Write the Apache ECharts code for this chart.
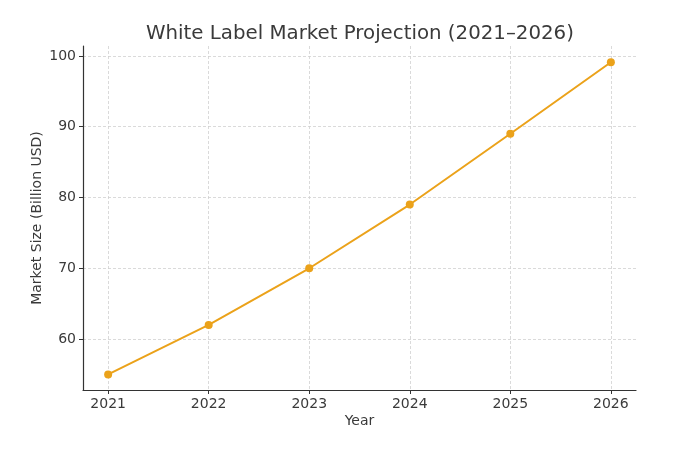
<!DOCTYPE html>
<html>
<head>
<meta charset="utf-8">
<script src="https://cdn.jsdelivr.net/npm/echarts@6/dist/echarts.min.js"></script>
<style>
  html, body { margin: 0; padding: 0; background: #fff; }
  #main { width: 692px; height: 454px; }
</style>
</head>
<body>
<div id="main"></div>
<script>
// 数据
const years = [2021, 2022, 2023, 2024, 2025, 2026];
const marketSize = [55, 62, 70, 79, 89, 99.1];
const yTicks = [60, 70, 80, 90, 100];

const textColor = '#3a3a3a';
const axisColor = '#333';
const gridColor = '#d0d0d0';
const lineColor = '#eba21a';
const font = 'DejaVu Sans';

let chart = echarts.init(document.getElementById('main'), null, { renderer: 'canvas' });

let option = {
        animation: false,
        title: {
                text: 'White Label Market Projection (2021–2026)',
                left: 141,
                top: 19,
                textStyle: {
                        fontFamily: font,
                        fontSize: 19.8,
                        fontWeight: 'normal',
                        color: textColor
                }
        },
        grid: {
                left: 83,
                right: 56,
                top: 46,
                bottom: 64
        },
        xAxis: {
                type: 'value',
                min: 2020.75,
                max: 2026.25,
                name: 'Year',
                nameLocation: 'middle',
                nameGap: 24,
                nameMoveOverlap: false,
                nameTextStyle: { fontFamily: font, fontSize: 14, color: textColor },
                axisLine: { show: true, lineStyle: { color: axisColor, width: 1.2 } },
                axisTick: { show: true, length: 4, lineStyle: { color: axisColor }, customValues: years },
                axisLabel: {
                        customValues: years,
                        margin: 7,
                        fontFamily: font,
                        fontSize: 14,
                        color: textColor,
                        formatter: (v) => String(v)
                },
                splitLine: { show: true, lineStyle: { color: gridColor, type: [3, 2], width: 0.8 } }
        },
        yAxis: {
                type: 'value',
                min: 52.8,
                max: 101.4,
                name: 'Market Size (Billion USD)',
                nameLocation: 'middle',
                nameGap: 39,
                nameMoveOverlap: false,
                nameTextStyle: { fontFamily: font, fontSize: 14, color: textColor },
                axisLine: { show: true, lineStyle: { color: axisColor, width: 1.2 } },
                axisTick: { show: true, length: 4, lineStyle: { color: axisColor }, customValues: yTicks },
                axisLabel: {
                        customValues: yTicks,
                        margin: 7,
                        fontFamily: font,
                        fontSize: 14,
                        color: textColor
                },
                splitLine: { show: true, lineStyle: { color: gridColor, type: [3, 2], width: 0.8 } }
        },
        series: [{
                type: 'line',
                data: years.map((y, i) => [y, marketSize[i]]),
                symbol: 'circle',
                symbolSize: 8,
                lineStyle: { color: lineColor, width: 2 },
                itemStyle: { color: lineColor }
        }]
};

chart.setOption(option);
</script>
</body>
</html>
